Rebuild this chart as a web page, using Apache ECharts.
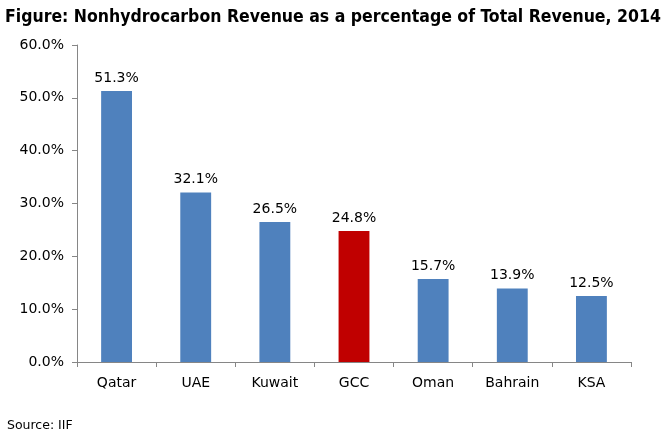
<!DOCTYPE html>
<html><head><meta charset="utf-8">
<script src="https://cdn.jsdelivr.net/npm/echarts@6/dist/echarts.min.js"></script>
<style>html,body{margin:0;padding:0;background:#fff}#c{width:666px;height:440px}</style>
</head><body><div id="c"></div>
<script>
const categories = ['Qatar','UAE','Kuwait','GCC','Oman','Bahrain','KSA'];
const values = [51.3, 32.1, 26.5, 24.8, 15.7, 13.9, 12.5];
const highlight = 'GCC';
const titleText = 'Figure: Nonhydrocarbon Revenue as a percentage of Total Revenue, 2014';
const sourceText = 'Source: IIF';

const chart = echarts.init(document.getElementById('c'), null, {renderer:'canvas'});
const font = 'DejaVu Sans';
chart.setOption({
  animation:false,
  backgroundColor:'#fff',
  title:[{text:titleText,left:0,top:3,textStyle:{fontFamily:'DejaVu Sans Condensed',fontWeight:'bold',fontSize:17.5,color:'#000'}},
         {text:sourceText,left:2,top:414,textStyle:{fontFamily:font,fontWeight:'normal',fontSize:12.5,color:'#000'}}],
  grid:{left:77,right:35,top:45,bottom:78},
  xAxis:{type:'category',data:categories,
    axisLine:{lineStyle:{color:'#868686'}},
    axisTick:{show:true,length:5,lineStyle:{color:'#868686'}},
    axisLabel:{fontFamily:font,fontSize:14,color:'#000',margin:14}},
  yAxis:{type:'value',min:0,max:60,interval:10,
    splitLine:{show:false},
    axisLine:{show:true,lineStyle:{color:'#868686'}},
    axisTick:{show:true,length:5,lineStyle:{color:'#868686'}},
    axisLabel:{fontFamily:font,fontSize:14,color:'#000',margin:13,formatter:v=>v.toFixed(1)+'%'}},
  series:[{type:'bar',barWidth:'39%',
    data:values.map((v,i)=>({value:v,itemStyle:{color:categories[i]===highlight?'#C00000':'#4F81BD'}})),
    label:{show:true,position:'top',distance:6,fontFamily:font,fontSize:14,color:'#000',formatter:p=>p.value.toFixed(1)+'%'}}]
});
</script></body></html>
